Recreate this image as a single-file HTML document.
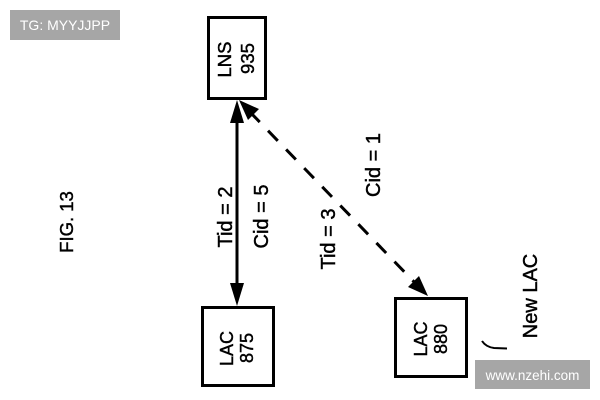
<!DOCTYPE html>
<html><head><meta charset="utf-8"><style>
html,body{margin:0;padding:0;background:#fff;}
svg{display:block;}
text{font-family:"Liberation Sans",Arial,sans-serif;fill:#000;}
.b{stroke:#000;stroke-width:0.45;}
</style></head><body>
<svg width="600" height="400" viewBox="0 0 600 400" xmlns="http://www.w3.org/2000/svg">
<rect width="600" height="400" fill="#fff"/>
<!-- watermark top -->
<rect x="10" y="10" width="110" height="30" fill="#a6a6a6"/>
<text x="65" y="30" text-anchor="middle" font-size="14" style="fill:#fff">TG: MYYJJPP</text>
<!-- boxes -->
<rect x="208.5" y="17.5" width="57" height="81" fill="none" stroke="#000" stroke-width="3"/>
<rect x="202.5" y="307.5" width="71" height="78" fill="none" stroke="#000" stroke-width="3"/>
<rect x="395.5" y="298.5" width="71" height="78" fill="none" stroke="#000" stroke-width="3"/>
<!-- box labels -->
<text class="b" transform="translate(231,59.5) rotate(-90)" text-anchor="middle" font-size="18.5">LNS</text>
<text class="b" transform="translate(254,58.5) rotate(-90)" text-anchor="middle" font-size="18.5">935</text>
<text class="b" transform="translate(233,348.5) rotate(-90)" text-anchor="middle" font-size="18">LAC</text>
<text class="b" transform="translate(253,348) rotate(-90)" text-anchor="middle" font-size="18">875</text>
<text class="b" transform="translate(427,339) rotate(-90)" text-anchor="middle" font-size="18">LAC</text>
<text class="b" transform="translate(447,339) rotate(-90)" text-anchor="middle" font-size="18">880</text>
<!-- vertical solid arrow -->
<line x1="237" y1="118" x2="237" y2="288" stroke="#000" stroke-width="3"/>
<polygon points="237,100 230,123 244,123" fill="#000"/>
<polygon points="237,306 230,283 244,283" fill="#000"/>
<!-- dashed arrow -->
<line x1="250" y1="112" x2="418" y2="286" stroke="#000" stroke-width="3" stroke-dasharray="14 12"/>
<polygon points="239,100 248,120 259,109" fill="#000"/>
<polygon points="428,296 408,287 419,276" fill="#000"/>
<!-- labels -->
<text class="b" transform="translate(232,217) rotate(-90)" text-anchor="middle" font-size="20">Tid = 2</text>
<text class="b" transform="translate(268,216.5) rotate(-90)" text-anchor="middle" font-size="20">Cid = 5</text>
<text class="b" transform="translate(335,239) rotate(-90)" text-anchor="middle" font-size="20">Tid = 3</text>
<text class="b" transform="translate(380,165) rotate(-90)" text-anchor="middle" font-size="20">Cid = 1</text>
<text class="b" transform="translate(73,222) rotate(-90)" text-anchor="middle" font-size="18.5">FIG. 13</text>
<text class="b" transform="translate(537,296) rotate(-90)" text-anchor="middle" font-size="20">New LAC</text>
<!-- small curve -->
<path d="M482,341 Q486,347 494,348 L507,348.5" fill="none" stroke="#000" stroke-width="2"/>
<!-- watermark bottom -->
<rect x="475" y="360" width="115" height="29" fill="#a6a6a6"/>
<text x="532.5" y="380" text-anchor="middle" font-size="13.5" style="fill:#fff">www.nzehi.com</text>
</svg>
</body></html>
